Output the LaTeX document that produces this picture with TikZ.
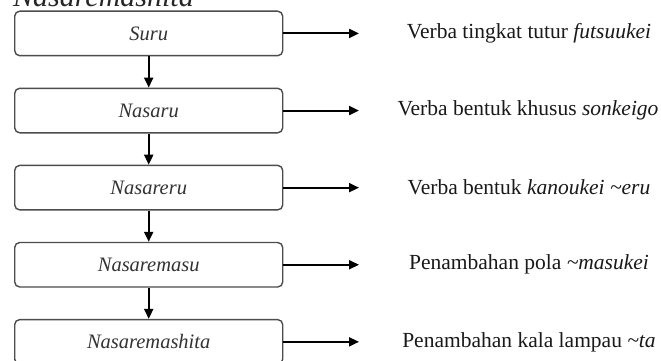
\documentclass[tikz,border=0pt]{standalone}
\usepackage{fontspec}
\setmainfont{Liberation Serif}
\usetikzlibrary{arrows.meta}
\begin{document}
\begin{tikzpicture}[x=1pt,y=-1pt,
  stagebox/.style={draw=black!70, line width=1.4pt, rounded corners=5pt, fill=white,
    minimum width=268pt, minimum height=44.5pt, inner sep=0pt, anchor=north west,
    font=\fontsize{20.5}{24}\selectfont\itshape, text=black!80},
  desc/.style={font=\fontsize{21.5}{25}\selectfont, text=black!90, inner sep=0pt},
  flow/.style={line width=2pt, -{Triangle[length=10pt,width=9pt]}}
]
\useasboundingbox (0,0) rectangle (661,361);
\clip (0,0) rectangle (661,361);
\node[anchor=base west, inner sep=0pt, font=\fontsize{30}{34}\selectfont\itshape, text=black!85] (title) at (13,7) {Nasaremashita};
\node[stagebox] (b1) at (14,10.5) {Suru};
\node[stagebox] (b2) at (14,87.6) {Nasaru};
\node[stagebox] (b3) at (14,164.7) {Nasareru};
\node[stagebox] (b4) at (14,241.8) {Nasaremasu};
\node[stagebox] (b5) at (14,318.9) {Nasaremashita};
\draw[flow] (b1.south) -- (b2.north);
\draw[flow] (b2.south) -- (b3.north);
\draw[flow] (b3.south) -- (b4.north);
\draw[flow] (b4.south) -- (b5.north);
\foreach \i in {1,...,5}{
  \coordinate (e\i) at (359, 0 |- b\i.center);
  \draw[flow] (b\i.east) -- (e\i);
}
\node[desc] (t1) at (529, 0 |- b1.center) {Verba tingkat tutur \textit{futsuukei}};
\node[desc] (t2) at (528, 0 |- b2.center) {Verba bentuk khusus \textit{sonkeigo}};
\node[desc] (t3) at (529, 0 |- b3.center) {Verba bentuk \textit{kanoukei \textasciitilde eru}};
\node[desc] (t4) at (529, 0 |- b4.center) {Penambahan pola \textit{\textasciitilde masukei}};
\node[desc] (t5) at (529, 0 |- b5.center) {Penambahan kala lampau \textit{\textasciitilde ta}};
\end{tikzpicture}
\end{document}
